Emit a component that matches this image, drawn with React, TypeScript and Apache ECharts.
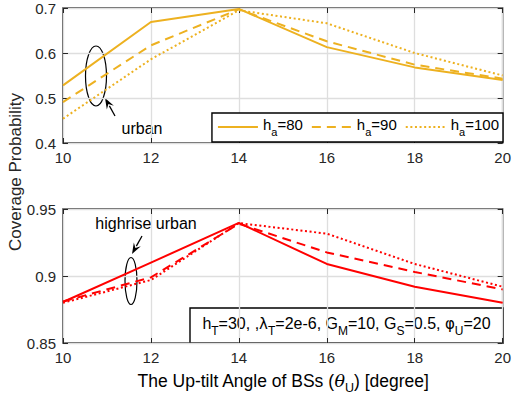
import React, { useEffect, useRef } from "react";
import * as echarts from "echarts";

// Up-tilt angle (degrees)
const angles = [10, 12, 14, 16, 18, 20];

// Urban environment, three antenna heights
const urbanHa80 = [0.528, 0.669, 0.698, 0.613, 0.568, 0.540];
const urbanHa90 = [0.491, 0.617, 0.697, 0.626, 0.574, 0.543];
const urbanHa100 = [0.454, 0.586, 0.695, 0.666, 0.600, 0.550];

// Highrise urban environment, same antenna heights
const highHa80 = [0.8806, 0.910, 0.9396, 0.909, 0.892, 0.880];
const highHa90 = [0.881, 0.899, 0.939, 0.9176, 0.903, 0.890];
const highHa100 = [0.880, 0.897, 0.9395, 0.9316, 0.909, 0.892];

const legendNames = ["ha=80", "ha=90", "ha=100"];

const ORANGE = "#EDB120";
const RED = "#FF0000";
const FONT = "Liberation Sans, Arial, Helvetica, sans-serif";
const GREEK = "DejaVu Sans, sans-serif";
const GRID_LINE = "#dedede";
const AXIS = "#262626";

const pair = (ys: number[]) => angles.map((a, i) => [a, ys[i]]);

const dashFor = (k: number): any =>
  k === 0 ? "solid" : k === 1 ? [9, 6] : [2, 2.6];

function baseX(gridIndex: number, top: boolean) {
  return {
    type: "value",
    gridIndex,
    position: top ? "top" : "bottom",
    min: 10,
    max: 20,
    interval: 2,
    axisLine: { show: false },
    axisTick: { show: true, inside: true, length: 5, lineStyle: { color: AXIS, width: 1 } },
    axisLabel: {
      show: !top,
      color: AXIS,
      fontSize: 15,
      fontFamily: FONT,
      margin: 7,
    },
    splitLine: { show: !top, lineStyle: { color: GRID_LINE, width: 1.3 } },
  };
}

function baseY(gridIndex: number, right: boolean, min: number, max: number, interval: number, dec: number) {
  return {
    type: "value",
    gridIndex,
    position: right ? "right" : "left",
    min,
    max,
    interval,
    axisLine: { show: false },
    axisTick: { show: true, inside: true, length: 5, lineStyle: { color: AXIS, width: 1 } },
    axisLabel: {
      show: !right,
      color: AXIS,
      fontSize: 15,
      fontFamily: FONT,
      margin: 7,
      formatter: (v: number) => {
        const s = v.toFixed(dec).replace(/0+$/, "");
        return s.endsWith(".") ? s + "0" : s;
      },
    },
    splitLine: { show: !right, lineStyle: { color: GRID_LINE, width: 1.3 } },
  };
}

function richSet(size: number, sub: number, raise: number, color: string) {
  return {
    m: { fontSize: size, fontFamily: FONT, color, padding: [0, 0, raise, 0], verticalAlign: "bottom" },
    s: { fontSize: sub, fontFamily: FONT, color, verticalAlign: "bottom" },
    g: { fontSize: size, fontFamily: "DejaVu Serif, serif", fontStyle: "italic", color, padding: [0, 0, raise, 0], verticalAlign: "bottom" },
    f: { fontSize: size - 1, fontFamily: GREEK, color, padding: [0, 0, raise, 0], verticalAlign: "bottom" },
  };
}

function arrow(x1: number, y1: number, x2: number, y2: number) {
  const ang = Math.atan2(y2 - y1, x2 - x1);
  const len = 9;
  const w = 4;
  const c = Math.cos(ang);
  const s = Math.sin(ang);
  const bx = x2 - len * c;
  const by = y2 - len * s;
  const nx = -s;
  const ny = c;
  return [
    {
      type: "line",
      shape: { x1, y1, x2: bx, y2: by },
      style: { stroke: "#000", lineWidth: 1.3 },
    },
    {
      type: "polygon",
      shape: {
        points: [
          [x2, y2],
          [bx + nx * w - c * 2, by + ny * w - s * 2],
          [bx + c * 2, by + s * 2],
          [bx - nx * w - c * 2, by - ny * w - s * 2],
        ],
      },
      style: { fill: "#000" },
    },
  ];
}

export default function App() {
  const ref = useRef<HTMLDivElement>(null);

  useEffect(() => {
    if (!ref.current) return;
    const chart = echarts.init(ref.current, null, { renderer: "svg" });

    const urban = [urbanHa80, urbanHa90, urbanHa100];
    const high = [highHa80, highHa90, highHa100];

    const series: any[] = [];
    urban.forEach((ys, k) =>
      series.push({
        type: "line",
        name: legendNames[k],
        xAxisIndex: 0,
        yAxisIndex: 0,
        data: pair(ys),
        symbol: "none",
        lineStyle: { color: ORANGE, width: 2, type: dashFor(k) },
        itemStyle: { color: ORANGE },
      })
    );
    high.forEach((ys, k) =>
      series.push({
        type: "line",
        name: "high" + k,
        xAxisIndex: 1,
        yAxisIndex: 1,
        data: pair(ys),
        symbol: "none",
        lineStyle: { color: RED, width: 2, type: dashFor(k) },
        itemStyle: { color: RED },
      })
    );

    const legendRich = richSet(15, 11, 5, "#000");
    const boxRich = richSet(16, 12, 5, "#000");
    const titleRich = richSet(17.5, 12.5, 5, AXIS);

    chart.setOption({
      animation: false,
      backgroundColor: "#fff",
      grid: [
        { left: 63, right: 11, top: 8, height: 135, show: true, borderColor: AXIS, borderWidth: 1.4, backgroundColor: "transparent" },
        { left: 63, right: 11, top: 209, height: 134, show: true, borderColor: AXIS, borderWidth: 1.4, backgroundColor: "transparent" },
      ],
      xAxis: [baseX(0, false), baseX(1, false), baseX(0, true), baseX(1, true)],
      yAxis: [
        baseY(0, false, 0.4, 0.7, 0.1, 1),
        baseY(1, false, 0.85, 0.95, 0.05, 2),
        baseY(0, true, 0.4, 0.7, 0.1, 1),
        baseY(1, true, 0.85, 0.95, 0.05, 2),
      ],
      legend: {
        data: legendNames,
        right: 11,
        top: 113,
        orient: "horizontal",
        itemWidth: 40,
        itemHeight: 12,
        itemGap: 8,
        padding: [4, 4, 5, 5],
        borderColor: "#000",
        borderWidth: 1.4,
        backgroundColor: "#fff",
        selectedMode: false,
        itemStyle: { opacity: 0 },
        textStyle: { rich: legendRich },
        formatter: (n: string) => "{m|h}{s|a}{m|=" + n.slice(3) + "}",
      },
      series,
      graphic: [
        // y-axis title shared by both panels
        {
          type: "text",
          x: 15,
          y: 172,
          rotation: Math.PI / 2,
          style: {
            text: "Coverage Probability",
            font: `17px ${FONT}`,
            fill: AXIS,
            align: "center",
            verticalAlign: "middle",
          },
        },
        // x-axis title
        {
          type: "text",
          x: 283,
          y: 383,
          style: {
            text: "{m|The Up-tilt Angle of BSs (}{g|θ}{s|U}{m|) [degree]}",
            rich: titleRich,
            align: "center",
            verticalAlign: "middle",
          },
        },
        // urban marker
        {
          type: "ellipse",
          shape: { cx: 96, cy: 76, rx: 10.5, ry: 30 },
          style: { fill: "none", stroke: "#000", lineWidth: 1.2 },
        },
        ...arrow(115, 116, 105, 98),
        {
          type: "text",
          x: 142,
          y: 128,
          style: { text: "urban", font: `16px ${FONT}`, fill: "#000", align: "center", verticalAlign: "middle" },
        },
        // highrise urban marker
        {
          type: "ellipse",
          shape: { cx: 131, cy: 281, rx: 6, ry: 23.5 },
          style: { fill: "none", stroke: "#000", lineWidth: 1.2 },
        },
        ...arrow(142, 236, 132, 254),
        {
          type: "text",
          x: 146,
          y: 223,
          style: { text: "highrise urban", font: `16px ${FONT}`, fill: "#000", align: "center", verticalAlign: "middle" },
        },
        // parameter box
        {
          type: "rect",
          shape: { x: 190, y: 308, width: 313, height: 35 },
          style: { fill: "#fff", stroke: "#000", lineWidth: 1.4 },
        },
        {
          type: "text",
          x: 346.5,
          y: 326,
          style: {
            text:
              "{m|h}{s|T}{m|=30, ,}{f|λ}{s|T}{m|=2e-6, G}{s|M}{m|=10, G}{s|S}{m|=0.5, }{f|φ}{s|U}{m|=20}",
            rich: boxRich,
            align: "center",
            verticalAlign: "middle",
          },
        },
      ],
    });

    return () => chart.dispose();
  }, []);

  return (
    <div
      ref={ref}
      style={{ position: "fixed", left: 0, top: 0, width: 514, height: 403 }}
    />
  );
}
